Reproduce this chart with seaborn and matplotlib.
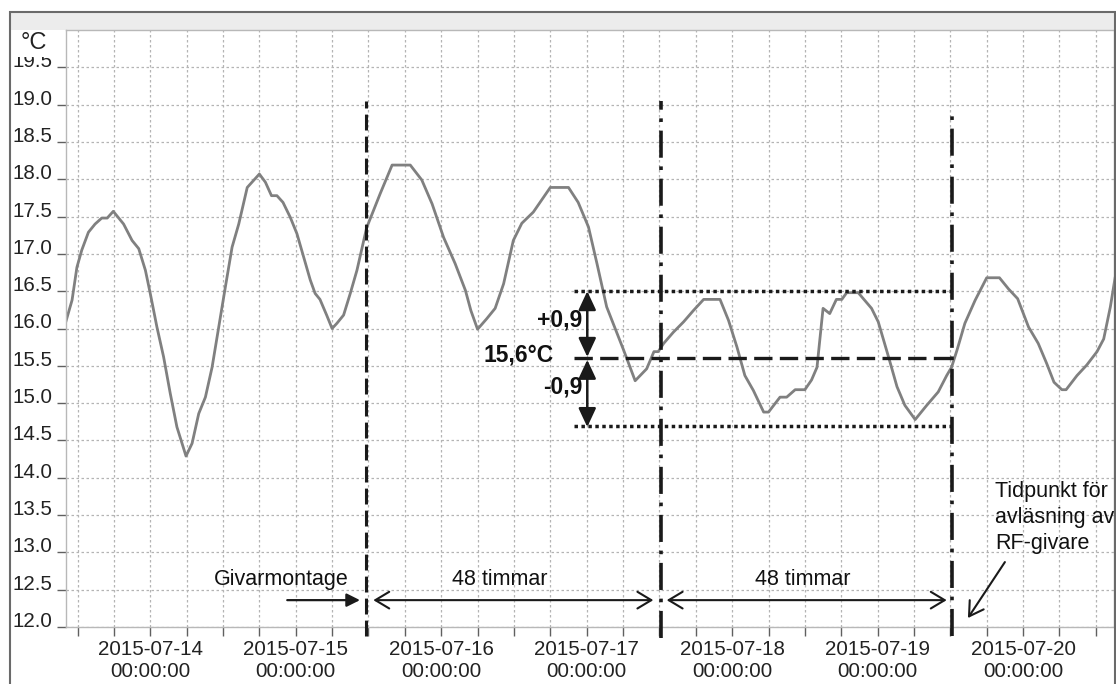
import numpy as np
import pandas as pd
import matplotlib
matplotlib.use("Agg")
import matplotlib.pyplot as plt
import matplotlib.dates as mdates
import seaborn as sns
from matplotlib.patches import Rectangle

# logger readings, hours after 2015-07-14 00:00
hours = [-14.0, -12.9, -12.1, -11.3, -10.2, -9.1, -8.0, -7.1, -6.1, -4.4, -3.0, -1.9, -0.8,
         0.0, 1.1, 2.2, 3.3, 4.4, 5.9, 6.9, 8.0, 9.1, 10.2, 11.3, 12.4, 13.5, 14.6, 16.0,
         18.0, 19.0, 20.0, 20.9, 21.9, 23.1, 24.2, 25.3, 26.4, 27.2, 28.0, 29.1, 30.0, 30.8,
         31.9, 33.0, 34.1, 35.7, 37.9, 39.9, 42.9, 44.8, 46.5, 48.4, 50.3, 52.0, 52.9, 54.0,
         55.5, 56.9, 58.3, 59.9, 61.3, 63.2, 66.0, 69.0, 70.6, 72.3, 73.7, 75.3, 76.7, 78.1,
         80.0, 81.9, 83.1, 83.8, 84.7, 86.3, 88.0, 89.6, 91.3, 94.0, 95.4, 96.8, 98.1, 99.5,
         101.2, 102.0, 103.9, 105.0, 106.4, 108.0, 109.1, 110.0, 111.0, 112.1, 113.2, 114.1,
         114.9, 116.8, 119.0, 120.1, 121.8, 123.2, 124.5, 126.2, 128.1, 130.0, 131.4, 132.2,
         133.1, 134.4, 136.1, 138.0, 140.1, 141.6, 143.1, 144.9, 146.5, 147.9, 149.1, 150.4,
         151.1, 152.9, 154.5, 156.2, 157.3, 158.4, 159.2]
temps = [16.07, 16.38, 16.82, 17.05, 17.29, 17.40, 17.48, 17.48, 17.57, 17.40, 17.18, 17.07, 16.78,
         16.47, 16.02, 15.62, 15.13, 14.68, 14.29, 14.46, 14.86, 15.08, 15.48, 16.02, 16.56, 17.09, 17.40, 17.89,
         18.07, 17.96, 17.78, 17.78, 17.69, 17.49, 17.27, 16.96, 16.65, 16.47, 16.39, 16.18, 16.00, 16.07,
         16.18, 16.47, 16.78, 17.35, 17.80, 18.19, 18.19, 17.99, 17.67, 17.22, 16.87, 16.51, 16.24, 15.99,
         16.13, 16.27, 16.60, 17.18, 17.41, 17.56, 17.89, 17.89, 17.69, 17.36, 16.87, 16.29, 16.00, 15.71,
         15.30, 15.46, 15.69, 15.69, 15.80, 15.95, 16.09, 16.24, 16.39, 16.39, 16.11, 15.75, 15.37, 15.17,
         14.88, 14.88, 15.08, 15.08, 15.18, 15.18, 15.31, 15.48, 16.27, 16.20, 16.39, 16.39,
         16.48, 16.48, 16.27, 16.09, 15.62, 15.22, 14.97, 14.78, 14.97, 15.15, 15.37, 15.48,
         15.71, 16.07, 16.38, 16.68, 16.68, 16.53, 16.40, 16.02, 15.80, 15.53, 15.28, 15.18,
         15.18, 15.37, 15.51, 15.69, 15.86, 16.29, 16.69]

events = [35.6, 84.2, 132.3]   # mounting, +48 h, +48 h
mean_temp = 15.6
spread = 0.9

start = pd.Timestamp("2015-07-14 00:00")
df = pd.DataFrame({"time": start + pd.to_timedelta(hours, unit="h"), "temp": temps})


def h(x):
    return mdates.date2num(start + pd.Timedelta(hours=x))


sns.set_theme(style="white")
plt.rcParams["font.family"] = ["Liberation Sans", "DejaVu Sans"]

fig = plt.figure(figsize=(11.16, 6.84), dpi=100)
ax = fig.add_axes([66 / 1116, 57 / 684, 1048 / 1116, 597 / 684])

sns.lineplot(data=df, x="time", y="temp", color="#808080", lw=2.0, ax=ax, zorder=2)

ax.set_xlim(h(-13.9), h(159.0))
ax.set_ylim(12, 20)
ax.set_xlabel("")
ax.set_ylabel("")

ax.set_yticks(np.arange(12, 19.51, 0.5))
ax.yaxis.set_major_formatter(matplotlib.ticker.FormatStrFormatter("%.1f"))
ax.xaxis.set_major_locator(mdates.DayLocator())
ax.xaxis.set_minor_locator(mdates.HourLocator(byhour=[6, 12, 18]))
ax.xaxis.set_major_formatter(mdates.DateFormatter("%Y-%m-%d\n%H:%M:%S"))

ax.tick_params(axis="both", which="both", direction="out", bottom=True, left=True,
               length=6.5, width=1, color="#606060", labelsize=14.8, labelcolor="#222222", pad=3)
for t in ax.yaxis.get_major_ticks():
    t.label1.set_va("baseline")

grid_kw = dict(color="#b4b4b4", ls=(0, (2, 2)), lw=0.9)
ax.grid(True, which="both", axis="x", **grid_kw)
ax.grid(True, which="major", axis="y", **grid_kw)
ax.set_axisbelow(True)
for s in ax.spines.values():
    s.set_color("#b8b8b8")
    s.set_linewidth(1)

# marker lines
dashdot = (0, (7.5, 2.4, 1, 2.4))
ax.vlines(h(events[0]), 11.88, 19.05, color="k", lw=2.2, ls=(0, (5.2, 2.0)), clip_on=False, zorder=3)
ax.vlines(h(events[1]), 11.85, 19.05, color="k", lw=2.6, ls=dashdot, clip_on=False, zorder=3)
ax.vlines(h(events[2]), 11.88, 18.9, color="k", lw=2.6, ls=dashdot, clip_on=False, zorder=3)

ax.hlines(mean_temp + spread, h(69.9), h(events[2]), color="k", lw=2.5, ls=(0, (1, 1)), zorder=3)
ax.hlines(mean_temp - spread, h(69.9), h(events[2]), color="k", lw=2.5, ls=(0, (1, 1)), zorder=3)
ax.hlines(mean_temp, h(69.9), h(events[2]), color="k", lw=2.4, ls=(0, (5.5, 2.2)), zorder=3)

vk = dict(arrowstyle="<|-|>,head_length=0.6,head_width=0.28", color="k", lw=1.8,
          mutation_scale=19, shrinkA=0, shrinkB=0)
ax.annotate("", xy=(h(72.1), mean_temp + spread), xytext=(h(72.1), mean_temp + 0.02), arrowprops=vk)
ax.annotate("", xy=(h(72.1), mean_temp - spread - 0.02), xytext=(h(72.1), mean_temp - 0.02), arrowprops=vk)

bold = dict(fontsize=16.5, fontweight="bold", ha="right", va="center", color="#111111")
ax.text(h(71.3), 16.11, "+0,9", **bold)
ax.text(h(66.5), 15.64, "15,6°C", **bold)
ax.text(h(71.3), 15.22, "-0,9", **bold)

# bottom annotations
txt = dict(fontsize=15.5, color="#111111")
ax.text(h(21.6), 12.64, "Givarmontage", ha="center", va="center", **txt)
ax.annotate("", xy=(h(34.6), 12.36), xytext=(h(22.6), 12.36),
            arrowprops=dict(arrowstyle="-|>", color="k", lw=1.6, mutation_scale=20, shrinkA=0, shrinkB=0))
open_kw = dict(arrowstyle="<->,head_length=0.5,head_width=0.3", color="k", lw=1.5,
               mutation_scale=20, shrinkA=0, shrinkB=0)
ax.annotate("", xy=(h(83.0), 12.36), xytext=(h(36.8), 12.36), arrowprops=open_kw)
ax.text(h(57.7), 12.64, "48 timmar", ha="center", va="center", **txt)
ax.annotate("", xy=(h(131.4), 12.36), xytext=(h(85.2), 12.36), arrowprops=open_kw)
ax.text(h(107.7), 12.64, "48 timmar", ha="center", va="center", **txt)

ax.text(h(139.4), 13.95, "Tidpunkt för\navläsning av\nRF-givare", ha="left", va="top",
        linespacing=1.3, clip_on=False, **txt)
ax.annotate("", xy=(h(134.9), 12.12), xytext=(h(141.0), 12.87),
            arrowprops=dict(arrowstyle="->,head_length=0.5,head_width=0.3", color="k", lw=1.5,
                            mutation_scale=20, shrinkA=0, shrinkB=0))

# window frame around the chart
fig.add_artist(Rectangle((10 / 1116, 1 - 30 / 684), 1105 / 1116, 18 / 684, transform=fig.transFigure,
                         fc="#ececec", ec="none", zorder=-1))
fig.add_artist(Rectangle((10 / 1116, -0.01), 1105 / 1116, 672 / 684 + 0.01, transform=fig.transFigure,
                         fill=False, ec="#6a6a6a", lw=1.5, zorder=4))
fig.add_artist(Rectangle((12 / 1116, 1 - 57 / 684), 50 / 1116, 26 / 684, transform=fig.transFigure,
                         fc="white", ec="none", zorder=5))
fig.text(34 / 1116, 1 - 43 / 684, "°C", ha="center", va="center", fontsize=17, color="#222222", zorder=6)

fig.savefig("out.png", dpi=100)
